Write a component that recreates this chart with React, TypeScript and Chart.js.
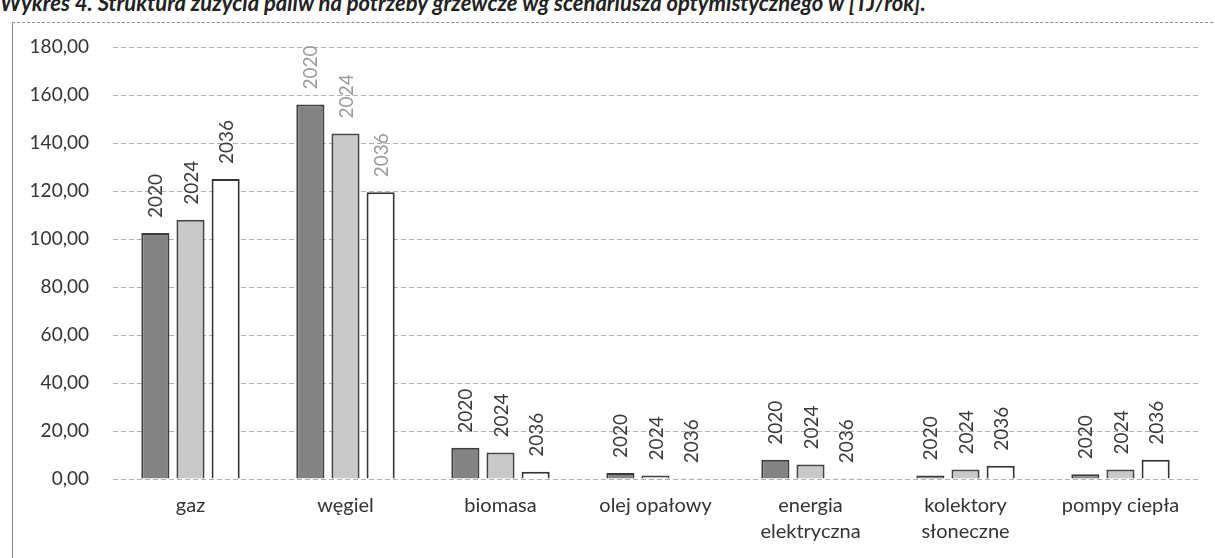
import React, { useEffect, useRef } from "react";
import { Chart, registerables } from "chart.js";

Chart.register(...registerables);

const categories: (string | string[])[] = [
  "gaz",
  "węgiel",
  "biomasa",
  "olej opałowy",
  ["energia", "elektryczna"],
  ["kolektory", "słoneczne"],
  "pompy ciepła",
];
const seriesNames = ["2020", "2024", "2036"];
const values2020 = [102.5, 156, 13, 2.5, 8, 1.5, 2];
const values2024 = [108, 144, 11, 1.5, 6, 4, 4];
const values2036 = [125, 119.5, 3, 0.3, 0.3, 5.5, 8];
const yTicks = [0, 20, 40, 60, 80, 100, 120, 140, 160, 180];
const title =
  "Wykres 4. Struktura zużycia paliw na potrzeby grzewcze wg scenariusza optymistycznego w [TJ/rok].";

const FONT = "Lato, 'Open Sans', sans-serif";
const labelColors = ["#3a3a3a", "#9a9a9a", "#3a3a3a", "#3a3a3a", "#3a3a3a", "#3a3a3a", "#3a3a3a"];

const seriesLabelPlugin = {
  id: "seriesLabels",
  afterDatasetsDraw(chart: any) {
    const ctx = chart.ctx;
    ctx.save();
    ctx.font = `19px ${FONT}`;
    ctx.textAlign = "left";
    ctx.textBaseline = "middle";
    chart.data.datasets.forEach((ds: any, di: number) => {
      const meta = chart.getDatasetMeta(di);
      meta.data.forEach((bar: any, i: number) => {
        ctx.save();
        ctx.fillStyle = labelColors[i];
        ctx.translate(bar.x + 1, bar.y - 15);
        ctx.rotate(-Math.PI / 2);
        ctx.fillText(ds.label, 0, 0);
        ctx.restore();
      });
    });
    ctx.restore();
  },
};

export default function App() {
  const ref = useRef<HTMLCanvasElement | null>(null);

  useEffect(() => {
    if (!ref.current) return;
    const chart = new Chart(ref.current, {
      type: "bar",
      data: {
        labels: categories,
        datasets: [
          {
            label: seriesNames[0],
            data: values2020,
            backgroundColor: "#838383",
            borderColor: "#3c3c3c",
            borderWidth: 2,
          },
          {
            label: seriesNames[1],
            data: values2024,
            backgroundColor: "#c9c9c9",
            borderColor: "#444444",
            borderWidth: 2,
          },
          {
            label: seriesNames[2],
            data: values2036,
            backgroundColor: "#ffffff",
            borderColor: "#333333",
            borderWidth: 2,
          },
        ],
      },
      options: {
        animation: false,
        responsive: false,
        maintainAspectRatio: false,
        datasets: { bar: { categoryPercentage: 0.68, barPercentage: 0.8 } },
        layout: { padding: { top: 47, right: 17, bottom: 0, left: 0 } },
        plugins: {
          legend: { display: false },
          tooltip: { enabled: false },
          title: { display: false },
        },
        scales: {
          x: {
            grid: { display: false, drawTicks: false },
            border: { display: false },
            ticks: {
              color: "#333",
              font: { family: FONT, size: 20, lineHeight: 1.3 },
              padding: 14,
              maxRotation: 0,
              autoSkip: false,
            },
            afterFit(scale: any) {
              scale.height = 79;
            },
          },
          y: {
            min: 0,
            max: 180,
            grid: {
              color: "#b0b0b0",
              lineWidth: 1,
              drawTicks: false,
            },
            border: { display: false, dash: [5, 3] },
            afterBuildTicks(scale: any) {
              scale.ticks = yTicks.map((v) => ({ value: v }));
            },
            ticks: {
              color: "#333",
              font: { family: FONT, size: 19 },
              padding: 24,
              callback: (v: any) => Number(v).toFixed(2).replace(".", ","),
            },
            afterFit(scale: any) {
              scale.width = 113;
            },
          },
        },
      },
      plugins: [seriesLabelPlugin],
    });
    return () => chart.destroy();
  }, []);

  return (
    <div
      style={{
        position: "absolute",
        left: 0,
        top: 0,
        width: 1215,
        height: 558,
        overflow: "hidden",
        background: "#fff",
      }}
    >
      <div
        style={{
          position: "absolute",
          left: 0,
          top: -11,
          fontFamily: FONT,
          fontStyle: "italic",
          fontWeight: 700,
          fontSize: 22,
          color: "#222",
          whiteSpace: "nowrap",
        }}
      >
        {title}
      </div>
      <div
        style={{
          position: "absolute",
          left: 12,
          top: 22,
          width: 1240,
          height: 600,
          borderLeft: "1px solid #8a8a8a",
          borderTop: "1px dashed #8a8a8a",
        }}
      />
      <canvas
        ref={ref}
        width={1215}
        height={558}
        style={{ position: "absolute", left: 0, top: 0 }}
      />
    </div>
  );
}
